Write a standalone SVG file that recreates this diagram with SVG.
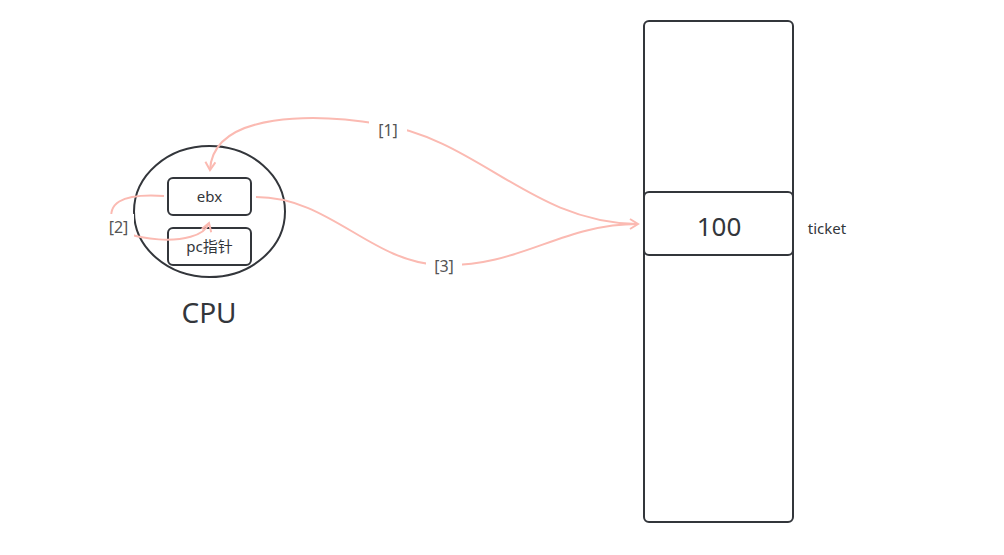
<svg xmlns="http://www.w3.org/2000/svg" width="1004" height="555" viewBox="0 0 1004 555">
<defs>
<style>
.box{fill:#fff;stroke:#33363b;stroke-width:2}
.edge{fill:none;stroke:#fbbab2;stroke-width:2}
.t{font-family:"Noto Sans","Noto Sans CJK SC",sans-serif;fill:#33363b;text-anchor:middle}
.lbl{font-family:"Noto Sans","Noto Sans CJK SC",sans-serif;fill:#555;font-size:16px;text-anchor:middle}
</style>
<marker id="arr" markerWidth="12" markerHeight="12" refX="10" refY="6" orient="auto" markerUnits="userSpaceOnUse">
<path d="M2 1 L10 6 L2 11" fill="none" stroke="#fbbab2" stroke-width="2"/>
</marker>
</defs>
<rect width="1004" height="555" fill="#fff"/>
<g id="memory">
<rect class="box" x="644" y="21" width="149" height="501" rx="5"/>
</g>
<g id="ticket">
<rect class="box" x="644" y="192" width="149" height="63" rx="5"/>
<text class="t" x="719" y="236" font-size="26">100</text>
<text class="t" x="827" y="234" font-size="15">ticket</text>
</g>
<g id="cpu">
<ellipse class="box" cx="209.5" cy="211.5" rx="75.5" ry="65.5"/>
<text class="t" x="209" y="323" font-size="28">CPU</text>
</g>
<g id="ebx">
<rect class="box" x="168" y="178" width="83" height="37" rx="5"/>
<text class="t" x="209.5" y="202" font-size="15">ebx</text>
</g>
<g id="pc">
<rect class="box" x="168" y="228" width="83" height="37" rx="5"/>
<text class="t" x="209.5" y="252" font-size="15">pc指针</text>
</g>
<g id="connectors">
<path class="edge" d="M637 224 C530 222 480 140 380 124 C320 114 213 110 210 170" marker-end="url(#arr)"/>
<path class="edge" d="M256 197 C330 197 370 262 440 265 C520 268 560 224 638 224" marker-end="url(#arr)"/>
<path class="edge" d="M164 196 C118 193 108 205 112 222 C116 240 200 250 209 223" marker-end="url(#arr)"/>
<rect x="369" y="117" width="38" height="26" fill="#fff"/>
<text class="lbl" x="388" y="136">[1]</text>
<rect x="426" y="254" width="36" height="26" fill="#fff"/>
<text class="lbl" x="444" y="272">[3]</text>
<rect x="104" y="214" width="30" height="26" fill="#fff"/>
<text class="lbl" x="118.5" y="233">[2]</text>
</g>
</svg>
